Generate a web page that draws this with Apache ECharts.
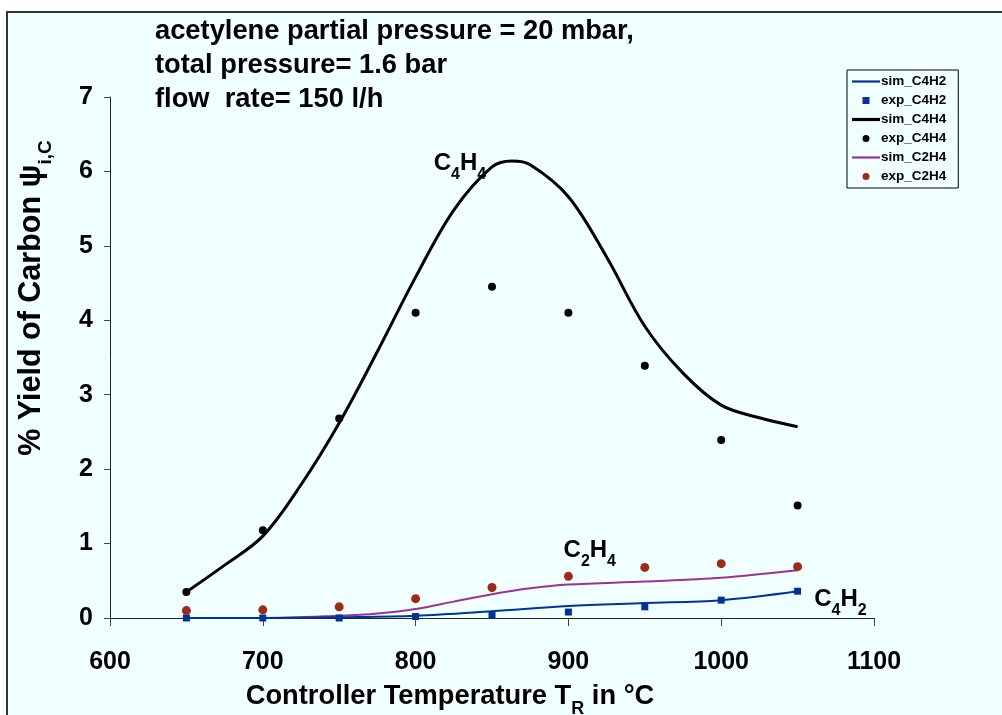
<!DOCTYPE html>
<html><head><meta charset="utf-8">
<script src="https://cdn.jsdelivr.net/npm/echarts@6/dist/echarts.min.js"></script>
<style>html,body{margin:0;padding:0;background:#fff}#c{width:1002px;height:715px}</style>
</head><body><div id="c"></div>
<script>
// ---- data ----
const expTemps = [650, 700, 750, 800, 850, 900, 950, 1000, 1050];
const expC4H2 = [0.00, 0.00, 0.00, 0.02, 0.04, 0.08, 0.15, 0.24, 0.36];
const expC4H4 = [0.35, 1.18, 2.68, 4.10, 4.45, 4.10, 3.39, 2.39, 1.51];
const expC2H4 = [0.10, 0.11, 0.15, 0.26, 0.41, 0.56, 0.68, 0.73, 0.69];

const simC4H2Temps = [650, 700, 750, 800, 850, 900, 950, 1000, 1050];
const simC4H2 = [0.00, 0.00, 0.01, 0.03, 0.09, 0.16, 0.20, 0.24, 0.36];

const simC4H4Temps = [650, 675, 700, 725, 750, 775, 800, 825, 850, 863, 875, 900, 925, 950, 975, 1000, 1025, 1050];
const simC4H4 = [0.35, 0.71, 1.10, 1.79, 2.62, 3.58, 4.58, 5.48, 6.06, 6.14, 6.09, 5.66, 4.85, 3.92, 3.29, 2.86, 2.69, 2.57];

const simC2H4Temps = [650, 700, 750, 775, 800, 825, 850, 875, 900, 950, 1000, 1050];
const simC2H4 = [0.00, 0.00, 0.03, 0.06, 0.12, 0.22, 0.32, 0.40, 0.45, 0.49, 0.54, 0.64];

const xTicks = [600, 700, 800, 900, 1000, 1100];
const yTicks = [0, 1, 2, 3, 4, 5, 6, 7];

const titleLines = ['acetylene partial pressure = 20 mbar,', 'total pressure= 1.6 bar', 'flow  rate= 150 l/h'];
const seriesNames = ['sim_C4H2', 'exp_C4H2', 'sim_C4H4', 'exp_C4H4', 'sim_C2H4', 'exp_C2H4'];
const annC4H4 = [829, 6.13];
const annC2H4 = [914, 0.93];
const annC4H2 = [1078, 0.28];

// ---- helpers ----
const zip = (xs, ys) => xs.map((x, i) => [x, ys[i]]);
const FONT = 'Liberation Sans, Arial, sans-serif';
const BLUE = '#003399', PURPLE = '#993399', RED = '#a2291a';
function subRichOf(big, small, drop, key) {
  const c = key === 'fill' ? {fill: '#000'} : {color: '#000'};
  return {
    a: Object.assign({fontSize: big, fontWeight: 'bold', fontFamily: FONT, lineHeight: big + 4, verticalAlign: 'bottom'}, c),
    s: Object.assign({fontSize: small, fontWeight: 'bold', fontFamily: FONT, lineHeight: small + 2, verticalAlign: 'bottom', padding: [0, 0, -drop, 0]}, c)
  };
}
function ann(coord, a, n1, b, n2) {
  return {
    symbol: 'circle', symbolSize: 1, itemStyle: {color: 'rgba(0,0,0,0)'},
    label: {show: true, position: 'inside', formatter: `{a|${a}}{s|${n1}}{a|${b}}{s|${n2}}`, rich: subRichOf(24, 16, 7)},
    data: [{coord: coord}], silent: true
  };
}
const legendData = [
  {name: 'sim_C4H2', icon: 'path://M0,0H28V2.2H0Z', itemStyle: {color: BLUE, borderWidth: 0}, lineStyle: {width: 0}},
  {name: 'exp_C4H2', icon: 'path://M0,0H1V1H0Z'},
  {name: 'sim_C4H4', icon: 'path://M0,0H28V3.2H0Z', itemStyle: {color: '#000', borderWidth: 0}, lineStyle: {width: 0}},
  {name: 'exp_C4H4', icon: 'circle'},
  {name: 'sim_C2H4', icon: 'path://M0,0H28V2.2H0Z', itemStyle: {color: PURPLE, borderWidth: 0}, lineStyle: {width: 0}},
  {name: 'exp_C2H4', icon: 'circle'}
];

const chart = echarts.init(document.getElementById('c'), null, {renderer: 'canvas'});
chart.setOption({
  backgroundColor: '#fff',
  animation: false,
  graphic: [
    {type: 'rect', left: 6, top: 11, shape: {width: 1000, height: 710}, style: {fill: '#f0ffff', stroke: '#333', lineWidth: 2}, z: -10},
    {type: 'text', x: 30, y: 298, rotation: Math.PI / 2,
     style: {text: '{a|% Yield of Carbon \u03c8}{s|i,C}', rich: subRichOf(30.5, 19, 8, 'fill'), align: 'center', verticalAlign: 'middle'}}
  ],
  title: {
    text: titleLines.join('\n'), left: 150, top: 9,
    textStyle: {fontSize: 27.3, fontWeight: 'bold', fontFamily: FONT, color: '#000', lineHeight: 34}
  },
  legend: {
    left: 847, top: 70, orient: 'vertical',
    backgroundColor: '#f0ffff', borderColor: '#000', borderWidth: 1, padding: [4, 12, 4, 5],
    itemWidth: 28, itemHeight: 7, itemGap: 4,
    textStyle: {fontSize: 13.5, fontWeight: 'bold', fontFamily: FONT, color: '#000', lineHeight: 15, padding: [0, 0, 0, -4]},
    data: legendData
  },
  grid: {left: 110, right: 128, top: 97, bottom: 97, containLabel: false, outerBoundsMode: 'none'},
  xAxis: {
    type: 'value', min: 600, max: 1100, interval: 100,
    name: '{a|Controller Temperature T}{s|R}{a| in \u00b0C}', nameLocation: 'middle', nameGap: 61,
    nameTextStyle: {rich: subRichOf(27.3, 18, 8), padding: [0, 84, 0, 0]},
    axisLine: {show: true, lineStyle: {color: '#222', width: 1}},
    axisTick: {show: true, inside: false, length: 8, lineStyle: {color: '#444'}},
    axisLabel: {fontSize: 25, fontWeight: 'bold', fontFamily: FONT, color: '#000', margin: 32,
      formatter: v => xTicks.includes(v) ? String(v) : ''},
    splitLine: {show: false}
  },
  yAxis: {
    type: 'value', min: 0, max: 7, interval: 1,
    axisLine: {show: true, lineStyle: {color: '#222', width: 1}},
    axisTick: {show: true, length: 6, lineStyle: {color: '#444'}},
    axisLabel: {fontSize: 25, fontWeight: 'bold', fontFamily: FONT, color: '#000', margin: 17,
      formatter: v => yTicks.includes(v) ? String(v) : ''},
    splitLine: {show: false}
  },
  series: [
    {name: 'sim_C4H2', type: 'line', smooth: 0.35, symbol: 'none', data: zip(simC4H2Temps, simC4H2),
     lineStyle: {color: BLUE, width: 2}, itemStyle: {color: BLUE}, z: 3, markPoint: ann(annC4H2, 'C', '4', 'H', '2')},
    {name: 'exp_C4H2', type: 'scatter', symbol: 'rect', symbolSize: 7, data: zip(expTemps, expC4H2),
     itemStyle: {color: BLUE, opacity: 1}, z: 4},
    {name: 'sim_C4H4', type: 'line', smooth: 0.35, symbol: 'none', data: zip(simC4H4Temps, simC4H4),
     lineStyle: {color: '#000', width: 3}, itemStyle: {color: '#000'}, z: 3, markPoint: ann(annC4H4, 'C', '4', 'H', '4')},
    {name: 'exp_C4H4', type: 'scatter', symbol: 'circle', symbolSize: 8, data: zip(expTemps, expC4H4),
     itemStyle: {color: '#000', opacity: 1}, z: 4},
    {name: 'sim_C2H4', type: 'line', smooth: 0.35, symbol: 'none', data: zip(simC2H4Temps, simC2H4),
     lineStyle: {color: PURPLE, width: 2}, itemStyle: {color: PURPLE}, z: 2, markPoint: ann(annC2H4, 'C', '2', 'H', '4')},
    {name: 'exp_C2H4', type: 'scatter', symbol: 'circle', symbolSize: 9, data: zip(expTemps, expC2H4),
     itemStyle: {color: RED, opacity: 1}, z: 4}
  ]
});
</script>
</body></html>
